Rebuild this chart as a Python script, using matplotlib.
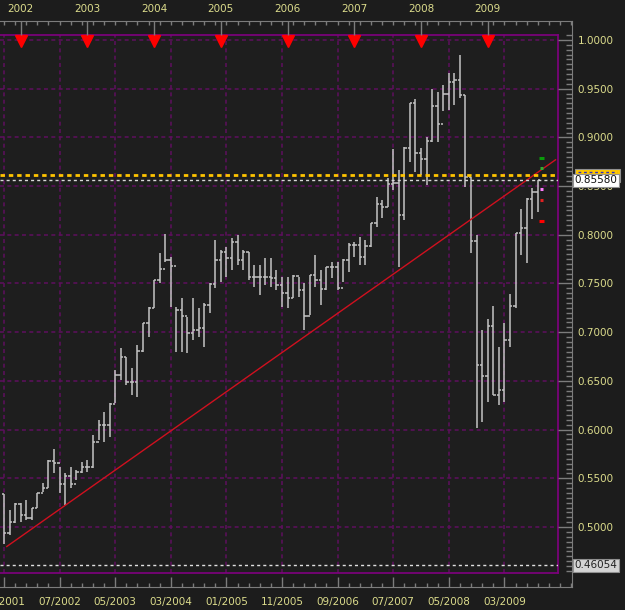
import numpy as np
import matplotlib
matplotlib.use("Agg")
import matplotlib.pyplot as plt
import matplotlib.transforms as mtransforms
from matplotlib.patches import Rectangle
from matplotlib.ticker import MultipleLocator, FixedLocator, FormatStrFormatter

# monthly bars, 09/2001 -> 09/2009 (bar index 0..96)
highs = [0.5339, 0.5175, 0.5246, 0.5246, 0.5277, 0.5195, 0.5349, 0.5452, 0.5688, 0.5801,
         0.5616, 0.5554, 0.5616, 0.5585, 0.5667, 0.5688, 0.5945, 0.6099, 0.6181, 0.6273,
         0.6612, 0.6838, 0.6745, 0.6632, 0.6869, 0.7094, 0.7259, 0.7536, 0.7813, 0.8008,
         0.7772, 0.7259, 0.7351, 0.7156, 0.7351, 0.7248, 0.7300, 0.7505, 0.7947, 0.7844,
         0.7875, 0.7967, 0.7998, 0.7844, 0.7823, 0.7690, 0.7690, 0.7762, 0.7762, 0.7639,
         0.7567, 0.7567, 0.7587, 0.7567, 0.7505, 0.7587, 0.7793, 0.7639, 0.7669, 0.7721,
         0.7721, 0.7752, 0.7916, 0.7926, 0.7977, 0.7947, 0.8121, 0.8388, 0.8357, 0.8583,
         0.8881, 0.8665, 0.8901, 0.9353, 0.9394, 0.8891, 0.9004, 0.9497, 0.9466, 0.9538,
         0.9661, 0.9661, 0.9846, 0.9435, 0.8593, 0.7998, 0.7023, 0.7136, 0.7269, 0.6848,
         0.7094, 0.7392, 0.8018, 0.8265, 0.8378, 0.8480, 0.8563]
lows = [0.4825, 0.4918, 0.5041, 0.5051, 0.5072, 0.5072, 0.5195, 0.5359, 0.5400, 0.5554,
        0.5349, 0.5226, 0.5400, 0.5483, 0.5554, 0.5565, 0.5606, 0.5893, 0.5873, 0.5924,
        0.6273, 0.6509, 0.6458, 0.6355, 0.6335, 0.6797, 0.6951, 0.7248, 0.7505, 0.7721,
        0.7259, 0.6797, 0.6797, 0.6787, 0.6920, 0.6951, 0.6848, 0.7197, 0.7454, 0.7515,
        0.7567, 0.7639, 0.7690, 0.7639, 0.7536, 0.7464, 0.7382, 0.7485, 0.7464, 0.7433,
        0.7259, 0.7248, 0.7351, 0.7361, 0.7023, 0.7177, 0.7464, 0.7279, 0.7433, 0.7556,
        0.7433, 0.7515, 0.7618, 0.7772, 0.7690, 0.7690, 0.7875, 0.8080, 0.8172, 0.8285,
        0.8460, 0.7669, 0.8152, 0.8747, 0.8645, 0.8614, 0.8511, 0.8953, 0.8953, 0.9271,
        0.9281, 0.9333, 0.9405, 0.8491, 0.7813, 0.6016, 0.6078, 0.6283, 0.6355, 0.6253,
        0.6283, 0.6848, 0.7248, 0.7793, 0.7710, 0.8162, 0.8234]
closes = [0.4938, 0.5051, 0.5236, 0.5123, 0.5092, 0.5195, 0.5349, 0.5400, 0.5678, 0.5657,
          0.5441, 0.5524, 0.5441, 0.5565, 0.5616, 0.5616, 0.5873, 0.6047, 0.6047, 0.6263,
          0.6561, 0.6745, 0.6489, 0.6489, 0.6807, 0.7094, 0.7248, 0.7536, 0.7649, 0.7741,
          0.7680, 0.7228, 0.7166, 0.6992, 0.7023, 0.7043, 0.7279, 0.7495, 0.7741, 0.7823,
          0.7762, 0.7926, 0.7741, 0.7823, 0.7567, 0.7567, 0.7567, 0.7567, 0.7556, 0.7485,
          0.7402, 0.7351, 0.7577, 0.7433, 0.7166, 0.7587, 0.7536, 0.7444, 0.7669, 0.7669,
          0.7454, 0.7741, 0.7895, 0.7895, 0.7772, 0.7885, 0.8121, 0.8316, 0.8285, 0.8522,
          0.8532, 0.8203, 0.8891, 0.9353, 0.8840, 0.8778, 0.8963, 0.9322, 0.9138, 0.9446,
          0.9569, 0.9589, 0.9435, 0.8593, 0.7936, 0.6663, 0.6550, 0.7064, 0.6355, 0.6407,
          0.6920, 0.7269, 0.8018, 0.8070, 0.8368, 0.8439, 0.8558]
opens = [highs[0]] + closes[:-1]

month_labels = ["09/2001", "07/2002", "05/2003", "03/2004", "01/2005",
                "11/2005", "09/2006", "07/2007", "05/2008", "03/2009"]
month_pos = [0, 10, 20, 30, 40, 50, 60, 70, 80, 90]
year_labels = ["2002", "2003", "2004", "2005", "2006", "2007", "2008", "2009"]
year_pos = [3, 15, 27, 39, 51, 63, 75, 87]

trend_x = [0.5, 99.2]
trend_y = [0.480, 0.877]
resist = 0.8611
last_price = 0.8558
support = 0.46054

signal_y = [0.879, 0.869, 0.847, 0.836, 0.814]
signal_c = ["#0a9a0a", "#2fb02f", "#ff7cff", "#e02020", "#ff0000"]
signal_w = [0.45, 0.25, 0.25, 0.25, 0.45]

W, H = 625, 610
BG = "#1e1e1e"
GRID = "#5e0f5e"
LBL = "#dcdc8c"
AXC = "#7c7c7c"

fig = plt.figure(figsize=(W / 100, H / 100), dpi=100)
fig.patch.set_facecolor("#1c1c1c")


def px_axes(x0, y0, x1, y1):
    return fig.add_axes([x0 / W, 1 - y1 / H, (x1 - x0) / W, (y1 - y0) / H])


XL = (-0.72, 99.64)
XL2 = (-0.72, 102.16)
YL = (0.4528, 1.0051)

# main price panel
ax = px_axes(0, 35, 558, 573)
ax.set_facecolor(BG)
ax.set_xlim(*XL)
ax.set_ylim(*YL)
ax.set_xticks([])
ax.set_yticks([])
for s in ["top", "right", "bottom"]:
    ax.spines[s].set_color("#800080")
    ax.spines[s].set_linewidth(1.2)
ax.spines["left"].set_visible(False)

ax.vlines(month_pos, YL[0], YL[1], color=GRID, lw=1.1, linestyle=(0, (2.6, 2.2)), zorder=1)
ax.hlines(np.arange(0.5, 1.01, 0.05), XL[0], XL[1], color=GRID, lw=1.1,
          linestyle=(0, (2.6, 2.2)), zorder=1)

idx = np.arange(len(closes))
ax.vlines(idx, lows, highs, color="#c4c4c4", lw=1.1, zorder=3)
ax.hlines(opens, idx - 0.42, idx, color="#c4c4c4", lw=1.1, zorder=3)
ax.hlines(closes, idx, idx + 0.42, color="#c4c4c4", lw=1.1, zorder=3)

ax.plot(trend_x, trend_y, color="#d0101e", lw=1.0, zorder=4)

ax.axhline(resist, color="#ffc400", lw=2.0, linestyle=(0, (1.6, 1.4)), zorder=5)
ax.axhline(last_price, color="#d8d8d8", lw=1.0, linestyle=(0, (2.2, 2.2)), zorder=5)
ax.axhline(support, color="#e0e0e0", lw=1.0, linestyle=(0, (2.2, 2.2)), zorder=5)

for yv, c, w in zip(signal_y, signal_c, signal_w):
    ax.hlines(yv, 96.7 - w, 96.7 + w, color=c, lw=2.2, zorder=6)

trans = mtransforms.blended_transform_factory(ax.transData, ax.transAxes)
ax.plot(year_pos, [0.988] * len(year_pos), "v", color="#ff0000", ms=9,
        transform=trans, clip_on=False, zorder=7)

# top time strip
axt = px_axes(0, 21, 572, 35)
axt.set_xlim(*XL2)
axt.patch.set_alpha(0)
axt.set_yticks([])
for s in ["left", "bottom"]:
    axt.spines[s].set_visible(False)
for s in ["top", "right"]:
    axt.spines[s].set_color(AXC)
axt.xaxis.set_ticks_position("top")
axt.xaxis.set_label_position("top")
axt.xaxis.set_major_locator(FixedLocator(year_pos))
axt.set_xticklabels(year_labels)
axt.xaxis.set_minor_locator(MultipleLocator(2))
axt.tick_params(axis="x", which="major", direction="in", length=10, width=1,
                color=AXC, labelcolor=LBL, labelsize=7.5, pad=5)
axt.tick_params(axis="x", which="minor", direction="in", length=3, width=1, color=AXC)

# bottom time strip
axb = px_axes(0, 573, 572, 587)
axb.set_xlim(*XL2)
axb.patch.set_alpha(0)
axb.set_yticks([])
for s in ["left", "top"]:
    axb.spines[s].set_visible(False)
for s in ["bottom", "right"]:
    axb.spines[s].set_color(AXC)
axb.xaxis.set_major_locator(FixedLocator(month_pos))
axb.set_xticklabels(month_labels)
axb.xaxis.set_minor_locator(MultipleLocator(2))
axb.tick_params(axis="x", which="major", direction="in", length=7, width=1,
                color=AXC, labelcolor=LBL, labelsize=7.5, pad=7)
axb.tick_params(axis="x", which="minor", direction="in", length=3, width=1, color=AXC)

# right price scale
axr = px_axes(558, 35, 572, 573)
axr.set_ylim(*YL)
axr.patch.set_alpha(0)
axr.set_xticks([])
for s in ["left", "top", "bottom"]:
    axr.spines[s].set_visible(False)
axr.spines["right"].set_color(AXC)
axr.yaxis.set_ticks_position("right")
axr.yaxis.set_major_locator(MultipleLocator(0.05))
axr.yaxis.set_minor_locator(MultipleLocator(0.005))
axr.yaxis.set_major_formatter(FormatStrFormatter("%.4f"))
axr.tick_params(axis="y", which="major", direction="in", length=10, width=1,
                color=AXC, labelcolor=LBL, labelsize=7.5, pad=4)
axr.tick_params(axis="y", which="minor", direction="in", length=4, width=1, color=AXC)

# price tags on the scale (resistance tag mostly hidden behind last price tag)
rtrans = mtransforms.blended_transform_factory(axr.transAxes, axr.transData)
axr.add_patch(Rectangle((1.2, resist - 0.0068), 3.25, 0.0136, transform=rtrans,
                        fc="#ffc800", ec="#909090", lw=0.8, clip_on=False, zorder=8))
axr.plot([1.45, 4.2], [resist + 0.0035] * 2, color="#3030c0", lw=1.0,
         linestyle=(0, (2, 2)), transform=rtrans, clip_on=False, zorder=8)
axr.text(1.2, last_price, "0.85580", transform=rtrans, va="center", ha="left",
         fontsize=7.5, color="#111111", zorder=9, clip_on=False,
         bbox=dict(boxstyle="square,pad=0.15", fc="#ffffff", ec="#909090", lw=0.8))
axr.text(1.2, support, "0.46054", transform=rtrans, va="center", ha="left",
         fontsize=7.5, color="#222222", zorder=9, clip_on=False,
         bbox=dict(boxstyle="square,pad=0.15", fc="#d4d4d4", ec="#909090", lw=0.8))

fig.savefig("out.png", dpi=100, facecolor=fig.get_facecolor())
